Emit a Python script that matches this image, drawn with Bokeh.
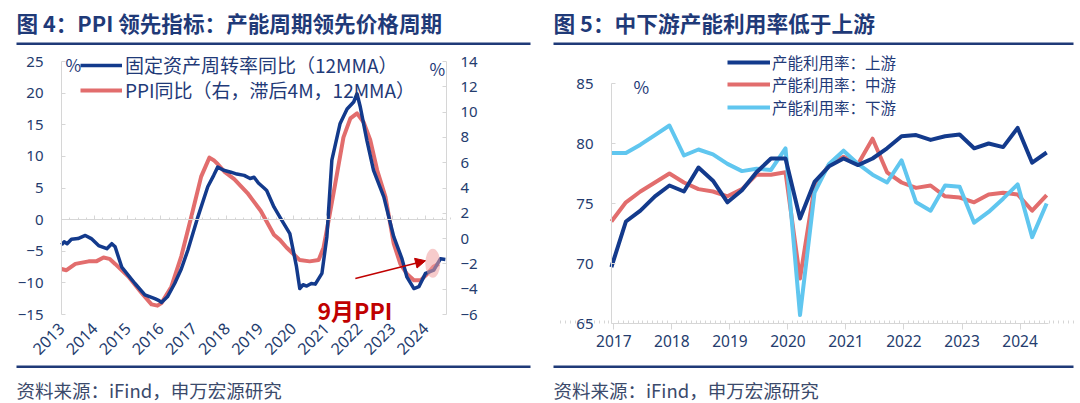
import math
from bokeh.plotting import figure
from bokeh.models import (Range1d, LinearAxis, FixedTicker, Label, Legend, LegendItem,
                          BoxAnnotation, Arrow, NormalHead)
from bokeh.layouts import row
from bokeh.embed import file_html
from bokeh.resources import INLINE

# ---------------- data: left chart (monthly, fractional years) ----------------
turnover_t = [2013.00, 2013.08, 2013.17, 2013.30, 2013.50, 2013.72, 2013.90, 2014.12, 2014.37,
              2014.52, 2014.62, 2014.82, 2015.02, 2015.22, 2015.52, 2015.82, 2015.95, 2016.02,
              2016.20, 2016.42, 2016.62, 2016.82, 2017.12, 2017.42, 2017.60, 2017.72, 2017.90,
              2018.12, 2018.30, 2018.52, 2018.70, 2018.82, 2018.95, 2019.12, 2019.20, 2019.42,
              2019.60, 2019.90, 2020.10, 2020.20, 2020.30, 2020.41, 2020.55, 2020.67, 2020.87,
              2021.02, 2021.17, 2021.42, 2021.63, 2021.83, 2021.93, 2022.03, 2022.23, 2022.43,
              2022.74, 2023.04, 2023.29, 2023.44, 2023.65, 2023.80, 2024.00, 2024.25, 2024.45,
              2024.60]
turnover_v = [-4.0, -3.5, -3.8, -3.1, -3.0, -2.5, -3.0, -4.1, -4.6,
              -3.8, -4.3, -7.5, -8.8, -10.1, -11.9, -12.5, -12.8, -13.1,
              -12.2, -10.1, -7.8, -4.8, 0.4, 5.2, 7.0, 8.3, 7.8,
              7.5, 7.2, 7.0, 6.5, 6.7, 5.8, 5.0, 4.6, 2.0,
              0.4, -2.2, -7.4, -10.9, -10.3, -10.5, -10.1, -10.2, -8.5,
              -2.7, 9.4, 15.2, 17.5, 18.6, 19.9, 17.8, 12.5, 7.8,
              3.6, -2.7, -6.2, -9.1, -10.9, -10.6, -8.5, -8.0, -6.2,
              -6.3]

ppi_t = [2013.00, 2013.15, 2013.42, 2013.82, 2014.05, 2014.27, 2014.45, 2014.62, 2015.02,
         2015.42, 2015.72, 2015.90, 2016.02, 2016.32, 2016.62, 2016.92, 2017.22, 2017.47,
         2017.60, 2017.72, 2017.92, 2018.22, 2018.62, 2019.02, 2019.42, 2019.60, 2019.80,
         2020.00, 2020.20, 2020.50, 2020.77, 2020.92, 2021.07, 2021.27, 2021.52, 2021.73,
         2021.93, 2022.13, 2022.33, 2022.54, 2022.79, 2023.04, 2023.24, 2023.44, 2023.65,
         2023.85, 2024.05, 2024.25, 2024.40]
ppi_v = [-2.4, -2.5, -2.0, -1.8, -1.8, -1.5, -1.6, -2.0, -3.0,
         -4.3, -5.2, -5.3, -5.1, -3.8, -1.4, 1.7, 4.9, 6.4,
         6.2, 5.9, 5.3, 4.7, 3.6, 2.2, 0.3, -0.1, -0.7,
         -1.2, -1.7, -1.8, -1.7, -0.7, 1.4, 4.3, 8.0, 9.5,
         9.9, 9.2, 7.8, 5.4, 3.3, -0.4, -2.0, -2.8, -3.3,
         -3.3, -2.8, -2.2, -2.0]

left_years = list(range(2013, 2025))
left_year_labels = [str(y) for y in left_years]
left_y_ticks = [-15, -10, -5, 0, 5, 10, 15, 20, 25]
right_y_ticks = [-6, -4, -2, 0, 2, 4, 6, 8, 10, 12, 14]

# ---------------- data: right chart (quarterly) ----------------
quarters = ["2016-12", "2017-03", "2017-06", "2017-09", "2017-12", "2018-03", "2018-06",
            "2018-09", "2018-12", "2019-03", "2019-06", "2019-09", "2019-12", "2020-03",
            "2020-06", "2020-09", "2020-12", "2021-03", "2021-06", "2021-09", "2021-12",
            "2022-03", "2022-06", "2022-09", "2022-12", "2023-03", "2023-06", "2023-09",
            "2023-12", "2024-03", "2024-06"]
upstream = [69.7, 73.5, 74.4, 75.6, 76.5, 76.0, 78.0, 76.9, 75.1, 76.1, 77.6, 78.75, 78.75,
            73.75, 76.8, 78.1, 78.75, 78.2, 78.75, 79.6, 80.6, 80.7, 80.3, 80.6, 80.75, 79.6,
            80.0, 79.7, 81.3, 78.4, 79.25]
midstream = [73.5, 75.1, 76.0, 76.75, 77.5, 76.75, 76.2, 76.0, 75.6, 76.2, 77.4, 77.4, 77.6,
             68.75, 76.4, 78.25, 78.9, 78.3, 80.4, 77.6, 76.75, 76.3, 76.5, 75.6, 75.5, 75.1,
             75.75, 75.9, 75.75, 74.4, 75.7]
downstream = [79.2, 79.2, 79.9, 80.7, 81.5, 79.0, 79.5, 79.1, 78.3, 77.7, 77.9, 77.8, 79.6,
              65.7, 75.9, 78.3, 79.4, 78.3, 77.4, 76.75, 78.6, 75.1, 74.4, 76.5, 76.4, 73.4,
              74.3, 75.4, 76.6, 72.2, 75.0]
right_years = list(range(2017, 2025))
right_year_labels = [str(y) for y in right_years]
util_ticks = [65, 70, 75, 80, 85]

q_x = [int(q[:4]) + (int(q[5:]) - 0.5) / 12 for q in quarters]

# ---------------- styles / layout ----------------
NAVY = "#133a8c"
RED = "#e26d6d"
CYAN = "#60c6ef"
TXT = "#1f3a78"
TICK_TXT = "#243c6e"
SRC_TXT = "#3b4a6b"
GREY = "#d6d6d6"
DARKRED = "#c00000"
CJK = "Noto Sans CJK SC"
NUM = "Noto Sans"

PW, PH = 540, 403   # each panel canvas (frame covers the whole canvas)


def rng(va, pa, vb, pb, lo_px, hi_px):
    """range whose ends sit at pixels lo_px / hi_px given two anchor pixels"""
    k = (vb - va) / (pb - pa)
    return Range1d(va + (lo_px - pa) * k, va + (hi_px - pa) * k)


def make_fig(xr, yr):
    p = figure(width=PW, height=PH, output_backend="svg", toolbar_location=None,
               x_range=xr, y_range=yr, x_axis_location=None, y_axis_location=None,
               min_border=0, min_border_left=0, min_border_right=0,
               min_border_top=0, min_border_bottom=0)
    p.outline_line_color = None
    p.grid.visible = False
    p.background_fill_color = "white"
    p.border_fill_color = "white"
    return p


def label(p, x, y, text, size, color, bold=False, font=CJK):
    # screen units, measured from the panel's bottom-left corner
    p.add_layout(Label(x=x, y=y, x_units="screen", y_units="screen", text=text,
                       text_font=font, text_font_size=f"{size}px", text_color=color,
                       text_font_style="bold" if bold else "normal",
                       text_baseline="middle", text_align="left"))


def rule(p, left, right, page_y, thick=2.5):
    p.add_layout(BoxAnnotation(left=left, right=right, top=PH - page_y, bottom=PH - page_y - thick,
                               left_units="screen", right_units="screen",
                               bottom_units="screen", top_units="screen",
                               fill_color=TXT, fill_alpha=1.0, line_color=None))


def legend_row(p, renderer, text, x, center_y, size, glyph_w, standoff):
    """one legend entry whose row centre sits at page pixel center_y"""
    h = 1.448 * size   # height bokeh measures for a CJK text row
    p.add_layout(Legend(items=[LegendItem(label=text, renderers=[renderer])],
                        location=(x, PH - center_y - h / 2), orientation="vertical",
                        padding=0, margin=0, spacing=0, glyph_width=glyph_w, glyph_height=16,
                        label_height=16, label_standoff=standoff, label_text_font=CJK,
                        label_text_font_size=f"{size}px", label_text_color=TXT,
                        background_fill_alpha=0, border_line_color=None))


def style_yaxis(ax, standoff):
    ax.axis_line_color = GREY
    ax.major_tick_line_color = GREY
    ax.major_tick_in = 4
    ax.major_tick_out = 0
    ax.minor_tick_line_color = None
    ax.major_label_text_font = NUM
    ax.major_label_text_font_size = "15px"
    ax.major_label_text_color = TICK_TXT
    ax.major_label_standoff = standoff


# ================= left panel =================
L_X1 = 446          # right edge of the plot area (page pixels)
xr1 = rng(2013, 61, 2024, 425, 0, PW)
yr1 = rng(25, 61, -15, 314, PH, 0)
ppi_r = rng(14, 61, -6, 314, PH, 0)
k1 = (2024 - 2013) / (425 - 61)
x_right_edge = 2013 + (L_X1 - 61) * k1

p1 = make_fig(xr1, yr1)
p1.extra_y_ranges = {"ppi": ppi_r}

xa = LinearAxis(fixed_location=left_y_ticks[0], ticker=FixedTicker(ticks=left_years))
xa.major_label_overrides = {y: s for y, s in zip(left_years, left_year_labels)}
xa.major_label_orientation = math.pi / 4
xa.axis_line_color = None
xa.major_tick_line_color = None
xa.minor_tick_line_color = None
xa.major_label_text_font = NUM
xa.major_label_text_font_size = "16px"
xa.major_label_text_color = TICK_TXT
xa.major_label_standoff = 5
p1.add_layout(xa, "below")

zero_ax = LinearAxis(fixed_location=0, bounds=(2013, x_right_edge),
                     ticker=FixedTicker(ticks=left_years,
                                        minor_ticks=[y + k / 4 for y in left_years for k in (1, 2, 3)]))
zero_ax.axis_line_color = GREY
zero_ax.major_tick_line_color = GREY
zero_ax.minor_tick_line_color = GREY
zero_ax.major_tick_in = 4
zero_ax.major_tick_out = 0
zero_ax.minor_tick_in = 2
zero_ax.minor_tick_out = 0
zero_ax.major_label_text_color = None
p1.add_layout(zero_ax, "below")

ya = LinearAxis(fixed_location=2013, bounds=(left_y_ticks[0], left_y_ticks[-1]),
                ticker=FixedTicker(ticks=left_y_ticks))
style_yaxis(ya, 18)
p1.add_layout(ya, "left")

ax_r = LinearAxis(y_range_name="ppi", fixed_location=x_right_edge,
                  bounds=(right_y_ticks[0], right_y_ticks[-1]),
                  ticker=FixedTicker(ticks=right_y_ticks))
style_yaxis(ax_r, 14)
p1.add_layout(ax_r, "right")

r_red = p1.line(ppi_t, ppi_v, color=RED, line_width=4, y_range_name="ppi", line_join="round")
r_blue = p1.line(turnover_t, turnover_v, color=NAVY, line_width=3.5, line_join="round")

# annotation: highlight ellipse, arrow, text
p1.ellipse(x=[2024.22], y=[-6.9], width=15, height=29, width_units="screen",
           height_units="screen", fill_color="#f0a0a0", fill_alpha=0.55, line_color=None)
p1.add_layout(Arrow(end=NormalHead(size=10, fill_color=DARKRED, line_color=DARKRED),
                    x_start=2021.88, y_start=-9.3, x_end=2024.0, y_end=-6.5,
                    line_color=DARKRED, line_width=1.5))
label(p1, 317, PH - 309, "9月PPI", 23, DARKRED, bold=True)

legend_row(p1, r_blue, "固定资产周转率同比（12MMA）", 80, 64.5, 19, 42, 3)
legend_row(p1, r_red, "PPI同比（右，滞后4M，12MMA）", 80, 89.5, 19, 42, 3)

label(p1, 65, PH - 64, "%", 17, TXT)
label(p1, 429, PH - 68, "%", 17, TXT)
label(p1, 16, PH - 22, "图 4：PPI 领先指标：产能周期领先价格周期", 21.6, TXT, bold=True)
rule(p1, 16, 530, 42)
rule(p1, 16, 530, 365)
label(p1, 16, PH - 389, "资料来源：iFind，申万宏源研究", 18.5, SRC_TXT)

# ================= right panel (canvas x = page x - 540) =================
OFF = 540
x0_r, x1_r = 2016.96, 2024.49
xr2 = rng(x0_r, 611 - OFF, x1_r, 1048 - OFF, 0, PW)
yr2 = rng(85, 83, 65, 323, PH, 0)
p2 = make_fig(xr2, yr2)

xb = LinearAxis(fixed_location=util_ticks[0], bounds=(x0_r, x1_r),
                ticker=FixedTicker(ticks=right_years,
                                   minor_ticks=[y + k / 12 for y in range(2016, 2025) for k in range(1, 12)]))
xb.major_label_overrides = {y: s for y, s in zip(right_years, right_year_labels)}
xb.axis_line_color = GREY
xb.major_tick_line_color = GREY
xb.minor_tick_line_color = GREY
xb.major_tick_out = 6
xb.major_tick_in = 0
xb.minor_tick_in = 3
xb.minor_tick_out = 0
xb.major_label_text_font = NUM
xb.major_label_text_font_size = "15.5px"
xb.major_label_text_color = TICK_TXT
xb.major_label_standoff = 5
p2.add_layout(xb, "below")

yb = LinearAxis(fixed_location=x0_r, bounds=(util_ticks[0], util_ticks[-1]),
                ticker=FixedTicker(ticks=util_ticks))
style_yaxis(yb, 18)
p2.add_layout(yb, "left")

r_mid = p2.line(q_x, midstream, color=RED, line_width=4, line_join="round")
r_down = p2.line(q_x, downstream, color=CYAN, line_width=4, line_join="round")
r_up = p2.line(q_x, upstream, color=NAVY, line_width=4, line_join="round")

legend_row(p2, r_up, "产能利用率：上游", 727 - OFF, 61.5, 15.5, 43, 2)
legend_row(p2, r_mid, "产能利用率：中游", 727 - OFF, 84, 15.5, 43, 2)
legend_row(p2, r_down, "产能利用率：下游", 727 - OFF, 106.5, 15.5, 43, 2)

label(p2, 633 - OFF, PH - 86, "%", 17, TXT)
label(p2, 553 - OFF, PH - 22, "图 5：中下游产能利用率低于上游", 21.7, TXT, bold=True)
rule(p2, 553 - OFF, 1073 - OFF, 42)
rule(p2, 553 - OFF, 1073 - OFF, 365)
label(p2, 553 - OFF, PH - 389, "资料来源：iFind，申万宏源研究", 18.5, SRC_TXT)

layout = row(p1, p2)
open("out.html", "w").write(file_html(layout, INLINE))
